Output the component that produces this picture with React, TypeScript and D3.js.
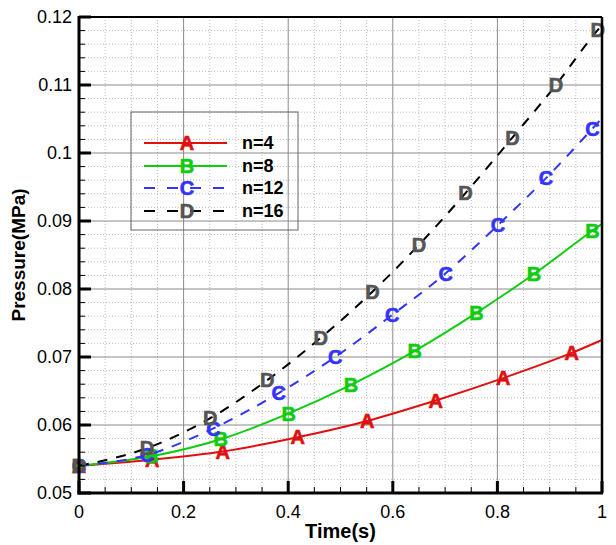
import React from 'react';
import * as d3 from 'd3';

const xTicks = [0, 0.2, 0.4, 0.6, 0.8, 1];
const xTickLabels = ['0', '0.2', '0.4', '0.6', '0.8', '1'];
const yTicks = [0.05, 0.06, 0.07, 0.08, 0.09, 0.1, 0.11, 0.12];
const yTickLabels = ['0.05', '0.06', '0.07', '0.08', '0.09', '0.1', '0.11', '0.12'];

const seriesNames = ['n=4', 'n=8', 'n=12', 'n=16'];
const seriesSymbols = ['A', 'B', 'C', 'D'];

const aTimes = [0, 0.14, 0.275, 0.418, 0.551, 0.682, 0.811, 0.942];
const aValues = [0.054, 0.0549, 0.0561, 0.0582, 0.0606, 0.0636, 0.0669, 0.0706];
const aEnd = 0.0725;

const bTimes = [0, 0.139, 0.271, 0.401, 0.52, 0.642, 0.76, 0.87, 0.982];
const bValues = [0.054, 0.0554, 0.0579, 0.0617, 0.0659, 0.0709, 0.0765, 0.0822, 0.0886];
const bEnd = 0.0896;

const cTimes = [0, 0.13, 0.257, 0.382, 0.49, 0.599, 0.701, 0.801, 0.893, 0.982];
const cValues = [0.054, 0.0556, 0.0595, 0.0647, 0.07, 0.0762, 0.0823, 0.0894, 0.0963, 0.1036];
const cEnd = 0.1051;

const dTimes = [0, 0.13, 0.251, 0.36, 0.462, 0.561, 0.65, 0.739, 0.829, 0.912, 0.992];
const dValues = [0.054, 0.0566, 0.061, 0.0666, 0.0728, 0.0796, 0.0865, 0.0941, 0.1023, 0.11, 0.1181];
const dEnd = 0.1188;

const W = 616;
const H = 545;
const M = { left: 79, right: 14, top: 17, bottom: 52 };
const FONT = '"Liberation Sans", Arial, sans-serif';

export default function App() {
  const x = d3.scaleLinear().domain([0, 1]).range([M.left, W - M.right]);
  const y = d3.scaleLinear().domain([0.05, 0.12]).range([H - M.bottom, M.top]);

  const xMinor = d3.range(0, 1.0001, 0.05).filter((v) => !xTicks.some((t) => Math.abs(t - v) < 1e-6));
  const yMinor = d3.range(0.05, 0.12001, 0.002).filter((v) => !yTicks.some((t) => Math.abs(t - v) < 1e-6));

  const series = [
    { t: aTimes, v: aValues, end: aEnd, color: '#e01010', markerColor: '#e01010', dash: undefined },
    { t: bTimes, v: bValues, end: bEnd, color: '#10cc10', markerColor: '#10cc10', dash: undefined },
    { t: cTimes, v: cValues, end: cEnd, color: '#3333ff', markerColor: '#3333ff', dash: '10,9' },
    { t: dTimes, v: dValues, end: dEnd, color: '#000000', markerColor: '#555555', dash: '10,9' },
  ];

  const line = d3
    .line<[number, number]>()
    .x((d) => x(d[0]))
    .y((d) => y(d[1]))
    .curve(d3.curveMonotoneX);

  const x0 = x(0), x1 = x(1), y0 = y(0.05), y1 = y(0.12);

  const legend = { x: 131, y: 112, w: 167, h: 118, rows: [143, 166, 188, 211] };
  const markerSize = 20;

  return (
    <svg
      width={W}
      height={H}
      style={{ position: 'absolute', left: 0, top: 0, background: '#fff' }}
      fontFamily={FONT}
    >
      <rect x={0} y={0} width={W} height={H} fill="#fff" />
      {/* minor grid */}
      {xMinor.map((v, i) => (
        <line key={'xm' + i} x1={x(v)} x2={x(v)} y1={y1} y2={y0} stroke="#bbbbbb" strokeWidth={1} strokeDasharray="1,2" />
      ))}
      {yMinor.map((v, i) => (
        <line key={'ym' + i} x1={x0} x2={x1} y1={y(v)} y2={y(v)} stroke="#bbbbbb" strokeWidth={1} strokeDasharray="1,2" />
      ))}
      {/* major grid */}
      {xTicks.map((v, i) => (
        <line key={'xg' + i} x1={x(v)} x2={x(v)} y1={y1} y2={y0} stroke="#8a8a8a" strokeWidth={1} />
      ))}
      {yTicks.map((v, i) => (
        <line key={'yg' + i} x1={x0} x2={x1} y1={y(v)} y2={y(v)} stroke="#8a8a8a" strokeWidth={1} />
      ))}

      {/* legend box */}
      <rect x={legend.x} y={legend.y} width={legend.w} height={legend.h} fill="none" stroke="#666" strokeWidth={1} />

      {/* series */}
      {series.map((s, si) => {
        const pts: [number, number][] = s.t.map((t, i) => [t, s.v[i]] as [number, number]);
        pts.push([1, s.end]);
        return (
          <g key={'s' + si}>
            <path d={line(pts) || ''} fill="none" stroke={s.color} strokeWidth={2} strokeDasharray={s.dash} />
            {s.t.map((t, i) => (
              <text
                key={'m' + i}
                x={x(t)}
                y={y(s.v[i])}
                dy="0.36em"
                textAnchor="middle"
                fontSize={markerSize}
                fontWeight="bold"
                fill={s.markerColor}
                stroke={s.markerColor}
                strokeWidth={0.6}
              >
                {seriesSymbols[si]}
              </text>
            ))}
          </g>
        );
      })}

      {/* legend entries */}
      {series.map((s, si) => (
        <g key={'lg' + si}>
          <line x1={144} x2={227} y1={legend.rows[si]} y2={legend.rows[si]} stroke={s.color} strokeWidth={2} strokeDasharray={s.dash ? '11,12' : undefined} />
          <text x={187} y={legend.rows[si]} dy="0.36em" textAnchor="middle" fontSize={markerSize} fontWeight="bold" fill={s.markerColor} stroke={s.markerColor} strokeWidth={0.6}>
            {seriesSymbols[si]}
          </text>
          <text x={242} y={legend.rows[si]} dy="0.36em" fontSize={18} fontWeight="bold" fill="#000">
            {seriesNames[si]}
          </text>
        </g>
      ))}

      {/* ticks */}
      {xMinor.map((v, i) => (
        <line key={'xmt' + i} x1={x(v)} x2={x(v)} y1={y0} y2={y0 - 6} stroke="#000" strokeWidth={1} />
      ))}
      {yMinor.map((v, i) => (
        <line key={'ymt' + i} x1={x0} x2={x0 + 6} y1={y(v)} y2={y(v)} stroke="#000" strokeWidth={1} />
      ))}
      {xTicks.map((v, i) => (
        <line key={'xt' + i} x1={x(v)} x2={x(v)} y1={y0} y2={y0 - 12} stroke="#000" strokeWidth={3} />
      ))}
      {yTicks.map((v, i) => (
        <line key={'yt' + i} x1={x0} x2={x0 + 12} y1={y(v)} y2={y(v)} stroke="#000" strokeWidth={3} />
      ))}

      {/* frame */}
      <line x1={x0} x2={x1} y1={y1} y2={y1} stroke="#000" strokeWidth={2} />
      <line x1={x1} x2={x1} y1={y1} y2={y0} stroke="#000" strokeWidth={2.5} />
      <line x1={x0} x2={x0} y1={y1 - 1} y2={y0 + 1.5} stroke="#000" strokeWidth={3} />
      <line x1={x0 - 1.5} x2={x1 + 1} y1={y0} y2={y0} stroke="#000" strokeWidth={3} />

      {/* tick labels */}
      {xTicks.map((v, i) => (
        <text key={'xl' + i} x={x(v)} y={518} textAnchor="middle" fontSize={18} fill="#000">
          {xTickLabels[i]}
        </text>
      ))}
      {yTicks.map((v, i) => (
        <text key={'yl' + i} x={72} y={y(v)} dy="0.36em" textAnchor="end" fontSize={18} fill="#000">
          {yTickLabels[i]}
        </text>
      ))}

      {/* axis titles */}
      <text x={(x0 + x1) / 2} y={538} textAnchor="middle" fontSize={20} fontWeight="bold" fill="#000">
        Time(s)
      </text>
      <text
        transform={`translate(25, ${(y0 + y1) / 2}) rotate(-90)`}
        textAnchor="middle"
        fontSize={19}
        fontWeight="bold"
        fill="#000"
      >
        Pressure(MPa)
      </text>
    </svg>
  );
}
